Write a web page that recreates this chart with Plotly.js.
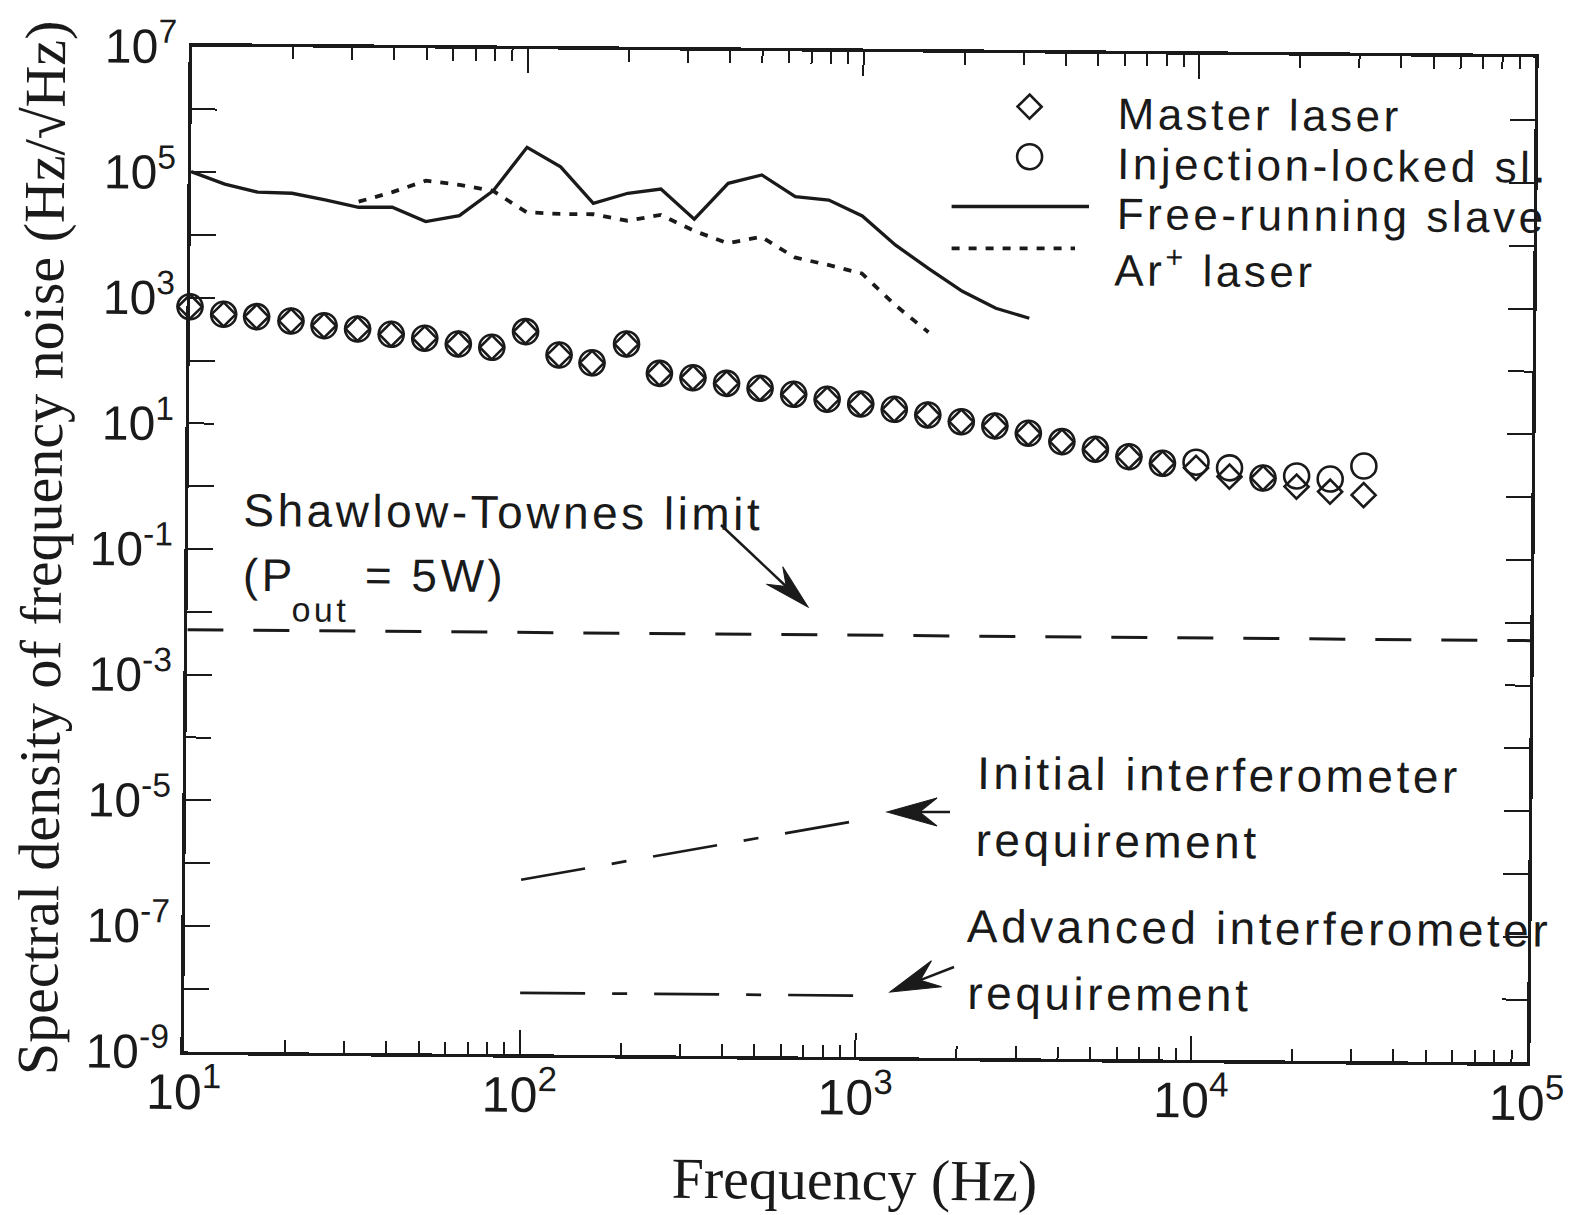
<!DOCTYPE html>
<html><head><meta charset="utf-8">
<script src="https://cdn.plot.ly/plotly-3.0.1.min.js"></script>
<style>
html,body{margin:0;padding:0;background:#fff;overflow:hidden;width:1580px;height:1215px;}
#wrap{position:absolute;left:0;top:0;width:1580px;height:1215px;transform-origin:859.5px 554.5px;transform:rotate(0.47deg);}
#chart{width:1580px;height:1215px;}
.annotation-text{letter-spacing:3.5px;}
</style></head><body><div id="wrap"><div id="chart"></div></div>
<script>
// ---------------- data ----------------
const freq = [10, 12.6, 15.8, 20, 25.1, 31.6, 39.8, 50.1, 63.1, 79.4, 100, 126, 158, 200, 251, 316, 398, 501, 631, 794,
              1000, 1259, 1585, 1995, 2512, 3162, 3981, 5012, 6310, 7943, 10000, 12589, 15849, 19953, 25119, 31623];
const masterLaser = [720, 551, 510, 440, 374, 335, 278, 243, 199, 178, 319, 137, 104, 209, 72, 62, 51, 43, 34.8, 29.3,
                     24.9, 20.7, 17.0, 13.4, 11.6, 8.96, 6.65, 5.08, 3.91, 3.10, 2.65, 1.94, 1.86, 1.37, 1.15, 1.03];
const injectionLocked = [720, 551, 510, 440, 374, 335, 278, 243, 199, 178, 319, 137, 104, 209, 72, 62, 51, 43, 34.8, 29.3,
                         24.9, 20.7, 17.0, 13.4, 11.6, 8.96, 6.65, 5.08, 3.91, 3.10, 3.26, 2.68, 1.86, 2.03, 1.83, 2.98];
const freeFreq = [10, 12.6, 15.8, 20, 25.1, 31.6, 39.8, 50.1, 63.1, 79.4, 100, 126, 158, 200, 251, 316, 398, 501, 631, 794,
                  1000, 1259, 1585, 1995, 2512, 3162];
const freeRunning = [1.02e5, 6.5e4, 4.9e4, 4.75e4, 3.75e4, 2.9e4, 2.93e4, 1.75e4, 2.2e4, 5.5e4, 2.75e5, 1.36e5, 3.6e4,
                     5.25e4, 6.2e4, 2.07e4, 7.8e4, 1.07e5, 4.9e4, 4.36e4, 2.45e4, 8.5e3, 3.6e3, 1.6e3, 865, 607];
const arFreq = [31.6, 39.8, 50.1, 63.1, 79.4, 100, 126, 158, 200, 251, 316, 398, 501, 631, 794, 1000, 1259, 1585];
const arLaser = [3.56e4, 5.1e4, 7.85e4, 6.8e4, 5.5e4, 2.54e4, 2.41e4, 2.41e4, 1.92e4, 2.4e4, 1.35e4, 8.65e3, 1.11e4,
                 5.25e3, 4.03e3, 2.98e3, 948, 352];
const stFreq = [10, 100000];
const shawlowTownes = [5.2e-3, 5.2e-3];
const reqFreq = [100, 1000];
const initialReq = [6.0e-7, 5.8e-6];
const advancedReq = [9.5e-9, 9.5e-9];

const yTickVals = [1e-9, 1e-7, 1e-5, 1e-3, 1e-1, 10, 1e3, 1e5, 1e7];
const yTickText = ['10<sup>-9</sup>', '10<sup>-7</sup>', '10<sup>-5</sup>', '10<sup>-3</sup>', '10<sup>-1</sup>',
                   '10<sup>1</sup>', '10<sup>3</sup>', '10<sup>5</sup>', '10<sup>7</sup>'];
const yMinorVals = [1e-8, 1e-6, 1e-4, 1e-2, 1, 100, 1e4, 1e6];
const xTickVals = [10, 100, 1000, 10000, 100000];
const xTickText = ['10<sup>1</sup>', '10<sup>2</sup>', '10<sup>3</sup>', '10<sup>4</sup>', '10<sup>5</sup>'];
const xMinorVals = [20,30,40,50,60,70,80,90,200,300,400,500,600,700,800,900,
                    2000,3000,4000,5000,6000,7000,8000,9000,20000,30000,40000,50000,60000,70000,80000,90000];

// ---------------- geometry (the scanned figure is slightly rotated) ----------------
const L = 188, R = 1531, T = 52, B = 1057;
const CX = 859.5, CY = 554.5, TH = 0.47 * Math.PI / 180;
const INK = '#1a1a1a';
function unrot(X, Y) {
  const s = Math.sin(TH), c = Math.cos(TH), dx = X - CX, dy = Y - CY;
  return [CX + dx * c + dy * s, CY - dx * s + dy * c];
}
function toPaperU(ux, uy) { return [(ux - L) / (R - L), (B - uy) / (B - T)]; }
function toPaper(X, Y) { const u = unrot(X, Y); return toPaperU(u[0], u[1]); }

const SANS = 'Liberation Sans, Arial, sans-serif';
const SERIF = 'Liberation Serif, Times New Roman, serif';

function txt(text, X, Ybase, size) {
  const u = unrot(X, Ybase);
  const p = toPaperU(u[0], u[1] + 0.212 * size);
  return {xref: 'paper', yref: 'paper', x: p[0], y: p[1], xanchor: 'left', yanchor: 'bottom', borderpad: 0,
          text: text, showarrow: false, font: {family: SANS, size: size, color: INK}};
}

const shapes = [];
function arrow(tX, tY, hX, hY, len, wid) {
  const t = unrot(tX, tY), h = unrot(hX, hY);
  let dx = h[0] - t[0], dy = h[1] - t[1];
  const m = Math.hypot(dx, dy); dx /= m; dy /= m;
  const nx = -dy, ny = dx;
  const b1 = [h[0] - len * dx + wid / 2 * nx, h[1] - len * dy + wid / 2 * ny];
  const b2 = [h[0] - len * dx - wid / 2 * nx, h[1] - len * dy - wid / 2 * ny];
  const nt = [h[0] - 0.65 * len * dx, h[1] - 0.65 * len * dy];
  const P = pt => toPaperU(pt[0], pt[1]);
  const pt0 = P(t), pn = P(nt), ph = P(h), p1 = P(b1), p2 = P(b2);
  shapes.push({type: 'line', xref: 'paper', yref: 'paper', x0: pt0[0], y0: pt0[1], x1: pn[0], y1: pn[1],
               line: {color: INK, width: 2.5}});
  shapes.push({type: 'path', xref: 'paper', yref: 'paper',
               path: `M${ph[0]},${ph[1]} L${p1[0]},${p1[1]} L${pn[0]},${pn[1]} L${p2[0]},${p2[1]} Z`,
               fillcolor: INK, line: {color: INK, width: 1}});
}
arrow(721, 525, 808, 607, 46, 24);
arrow(950, 812, 887, 812, 50, 28);
arrow(954, 967, 890, 992, 50, 28);

// legend keys (drawn on an overlay 0..1 axis pair)
const lgD = toPaper(1029.6, 106.7), lgC = toPaper(1029.6, 156.7);
const lgS0 = toPaper(951.6, 206.5), lgS1 = toPaper(1089, 206.5);
const lgA0 = toPaper(951.6, 248.3), lgA1 = toPaper(1075, 248.3);

const traces = [
  {x: freeFreq, y: freeRunning, mode: 'lines', name: 'Free-running slave', line: {color: INK, width: 3.3}},
  {x: arFreq, y: arLaser, mode: 'lines', name: 'Ar+ laser', line: {color: INK, width: 3.8, dash: '8px,9px'}},
  {x: stFreq, y: shawlowTownes, mode: 'lines', name: 'Shawlow-Townes limit', line: {color: INK, width: 3, dash: '36px,30px'}},
  {x: reqFreq, y: initialReq, mode: 'lines', name: 'Initial interferometer requirement', line: {color: INK, width: 2.7, dash: '65px,27px,15px,27px'}},
  {x: reqFreq, y: advancedReq, mode: 'lines', name: 'Advanced interferometer requirement', line: {color: INK, width: 2.7, dash: '65px,27px,15px,27px'}},
  {x: freq, y: injectionLocked, mode: 'markers', name: 'Injection-locked sl.', cliponaxis: false,
   marker: {symbol: 'circle-open', size: 25, color: INK, line: {width: 2.6, color: INK}}},
  {x: freq, y: masterLaser, mode: 'markers', name: 'Master laser', cliponaxis: false,
   marker: {symbol: 'diamond-open', size: 18.5, color: INK, line: {width: 2.6, color: INK}}},
  // legend keys
  {x: [lgD[0]], y: [lgD[1]], xaxis: 'x2', yaxis: 'y2', mode: 'markers', hoverinfo: 'skip',
   marker: {symbol: 'diamond-open', size: 18.5, color: INK, line: {width: 2.6, color: INK}}},
  {x: [lgC[0]], y: [lgC[1]], xaxis: 'x2', yaxis: 'y2', mode: 'markers', hoverinfo: 'skip',
   marker: {symbol: 'circle-open', size: 25, color: INK, line: {width: 2.6, color: INK}}},
  {x: [lgS0[0], lgS1[0]], y: [lgS0[1], lgS1[1]], xaxis: 'x2', yaxis: 'y2', mode: 'lines', hoverinfo: 'skip',
   line: {color: INK, width: 3.3}},
  {x: [lgA0[0], lgA1[0]], y: [lgA0[1], lgA1[1]], xaxis: 'x2', yaxis: 'y2', mode: 'lines', hoverinfo: 'skip',
   line: {color: INK, width: 3.8, dash: '8px,9px'}}
];

const annotations = [
  txt('Master laser', 1116, 130, 44),
  txt('Injection-locked sl.', 1116, 180, 44),
  txt('Free-running slave', 1116, 230, 44),
  txt('Ar<sup>+</sup> laser', 1113, 286, 44),
  txt('Shawlow-Townes limit', 242, 527, 46),
  txt('(P', 242, 592, 46),
  txt('out', 290, 622, 34),
  txt('= 5W)', 364, 592, 46),
  txt('Initial interferometer', 976, 790, 46),
  txt('requirement', 975, 857, 46),
  txt('Advanced interferometer', 966, 943, 46),
  txt('requirement', 966, 1010, 46)
];

const layout = {
  width: 1580, height: 1215,
  margin: {l: L, r: 1580 - R, t: T, b: 1215 - B},
  paper_bgcolor: '#ffffff', plot_bgcolor: '#ffffff',
  showlegend: false,
  font: {family: SANS, color: INK},
  xaxis: {
    type: 'log', range: [1, 5], tickmode: 'array', tickvals: xTickVals, ticktext: xTickText,
    ticks: 'inside', ticklen: 24, tickwidth: 2, tickcolor: INK, mirror: 'ticks',
    showline: true, linewidth: 3.5, linecolor: INK, showgrid: false, zeroline: false,
    ticklabelstandoff: -6,
    tickfont: {family: SANS, size: 50, color: INK},
    minor: {tickmode: 'array', tickvals: xMinorVals, ticks: 'inside', ticklen: 12, tickwidth: 2, tickcolor: INK, showgrid: false},
    title: {text: 'Frequency (Hz)', font: {family: SERIF, size: 58, color: INK}, standoff: 35}
  },
  yaxis: {
    type: 'log', range: [-9, 7], tickmode: 'array', tickvals: yTickVals, ticktext: yTickText,
    ticks: 'inside', ticklen: 25, tickwidth: 2, tickcolor: INK, mirror: 'ticks',
    showline: true, linewidth: 3.5, linecolor: INK, showgrid: false, zeroline: false,
    ticklabelstandoff: 2,
    tickfont: {family: SANS, size: 48, color: INK},
    minor: {tickmode: 'array', tickvals: yMinorVals, ticks: 'inside', ticklen: 25, tickwidth: 2, tickcolor: INK, showgrid: false},
    title: {text: 'Spectral density of frequency noise (Hz/\u221AHz)', font: {family: SERIF, size: 58, color: INK}, standoff: 10}
  },
  xaxis2: {overlaying: 'x', range: [0, 1], visible: false, fixedrange: true, anchor: 'y2'},
  yaxis2: {overlaying: 'y', range: [0, 1], visible: false, fixedrange: true, anchor: 'x2'},
  annotations: annotations,
  shapes: shapes
};

Plotly.newPlot('chart', traces, layout, {staticPlot: true, displayModeBar: false});
</script></body></html>
